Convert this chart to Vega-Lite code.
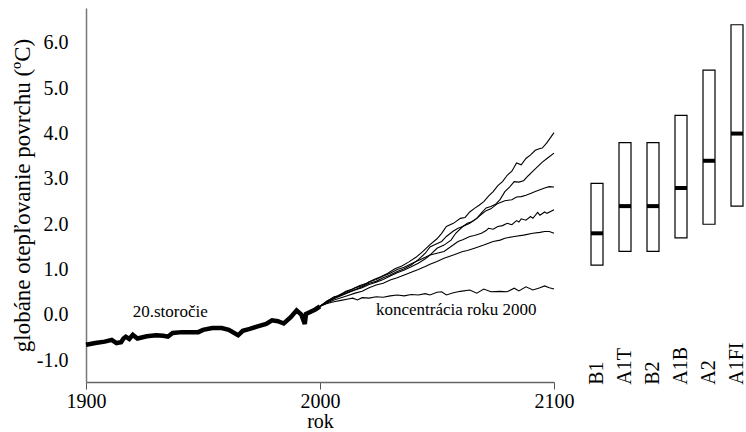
{
  "$schema": "https://vega.github.io/schema/vega-lite/v6.json",
  "padding": {"left": 11, "top": 8, "right": 0, "bottom": 0},
  "bounds": "flush",
  "spacing": 29,
  "config": {
    "view": {"stroke": null},
    "font": "Liberation Serif",
    "axis": {"grid": false, "labelColor": "black", "titleColor": "black", "titleFontWeight": "normal", "labelFont": "Liberation Serif", "titleFont": "Liberation Serif"}
  },
  "resolve": {"scale": {"x": "independent", "y": "independent"}},
  "datasets": {
    "hist": [
      {"year": 1900, "value": -0.66}, {"year": 1904, "value": -0.62}, {"year": 1908, "value": -0.59},
      {"year": 1911, "value": -0.55}, {"year": 1913, "value": -0.62}, {"year": 1915, "value": -0.6},
      {"year": 1916, "value": -0.52}, {"year": 1917, "value": -0.48}, {"year": 1918.5, "value": -0.53},
      {"year": 1920, "value": -0.44}, {"year": 1922, "value": -0.52}, {"year": 1926, "value": -0.47},
      {"year": 1930, "value": -0.45}, {"year": 1933, "value": -0.46}, {"year": 1935, "value": -0.48},
      {"year": 1937, "value": -0.4}, {"year": 1941, "value": -0.38}, {"year": 1945, "value": -0.38},
      {"year": 1948, "value": -0.38}, {"year": 1950, "value": -0.33}, {"year": 1954, "value": -0.29},
      {"year": 1958, "value": -0.29}, {"year": 1961, "value": -0.33}, {"year": 1965, "value": -0.45},
      {"year": 1967, "value": -0.35}, {"year": 1970, "value": -0.31}, {"year": 1973, "value": -0.26},
      {"year": 1977, "value": -0.2}, {"year": 1979.5, "value": -0.12}, {"year": 1982, "value": -0.14},
      {"year": 1984.5, "value": -0.19}, {"year": 1987.5, "value": -0.05}, {"year": 1990, "value": 0.1},
      {"year": 1992, "value": 0.01}, {"year": 1993.5, "value": -0.2}, {"year": 1994, "value": 0.02},
      {"year": 1998, "value": 0.12}, {"year": 2000, "value": 0.19}
    ],
    "proj": [
      {"series": "L1", "year": 2000, "value": 0.19}, {"series": "L1", "year": 2003, "value": 0.3}, {"series": "L1", "year": 2006, "value": 0.4},
      {"series": "L1", "year": 2008, "value": 0.42}, {"series": "L1", "year": 2011, "value": 0.52}, {"series": "L1", "year": 2014, "value": 0.57},
      {"series": "L1", "year": 2017, "value": 0.65}, {"series": "L1", "year": 2020, "value": 0.7}, {"series": "L1", "year": 2023, "value": 0.78},
      {"series": "L1", "year": 2026, "value": 0.84}, {"series": "L1", "year": 2029, "value": 0.92}, {"series": "L1", "year": 2032, "value": 1.02},
      {"series": "L1", "year": 2035, "value": 1.08}, {"series": "L1", "year": 2038, "value": 1.17}, {"series": "L1", "year": 2041, "value": 1.27},
      {"series": "L1", "year": 2044, "value": 1.4}, {"series": "L1", "year": 2047, "value": 1.55}, {"series": "L1", "year": 2050, "value": 1.68},
      {"series": "L1", "year": 2052, "value": 1.8}, {"series": "L1", "year": 2054, "value": 1.95}, {"series": "L1", "year": 2057, "value": 2.02},
      {"series": "L1", "year": 2060, "value": 2.13}, {"series": "L1", "year": 2062, "value": 2.15}, {"series": "L1", "year": 2064, "value": 2.27},
      {"series": "L1", "year": 2066, "value": 2.35}, {"series": "L1", "year": 2068, "value": 2.42}, {"series": "L1", "year": 2070, "value": 2.5},
      {"series": "L1", "year": 2072, "value": 2.62}, {"series": "L1", "year": 2074, "value": 2.72}, {"series": "L1", "year": 2076, "value": 2.85},
      {"series": "L1", "year": 2078, "value": 2.94}, {"series": "L1", "year": 2080, "value": 3.08}, {"series": "L1", "year": 2082, "value": 3.17},
      {"series": "L1", "year": 2084, "value": 3.35}, {"series": "L1", "year": 2086, "value": 3.31}, {"series": "L1", "year": 2088, "value": 3.45},
      {"series": "L1", "year": 2090, "value": 3.53}, {"series": "L1", "year": 2092, "value": 3.63}, {"series": "L1", "year": 2094, "value": 3.67},
      {"series": "L1", "year": 2095, "value": 3.68}, {"series": "L1", "year": 2097, "value": 3.8}, {"series": "L1", "year": 2100, "value": 4.02},

      {"series": "L2", "year": 2000, "value": 0.19}, {"series": "L2", "year": 2003, "value": 0.31}, {"series": "L2", "year": 2006, "value": 0.38},
      {"series": "L2", "year": 2009, "value": 0.46}, {"series": "L2", "year": 2012, "value": 0.52}, {"series": "L2", "year": 2015, "value": 0.6},
      {"series": "L2", "year": 2018, "value": 0.64}, {"series": "L2", "year": 2021, "value": 0.73}, {"series": "L2", "year": 2024, "value": 0.78},
      {"series": "L2", "year": 2027, "value": 0.86}, {"series": "L2", "year": 2030, "value": 0.92}, {"series": "L2", "year": 2033, "value": 1.0},
      {"series": "L2", "year": 2036, "value": 1.05}, {"series": "L2", "year": 2039, "value": 1.13}, {"series": "L2", "year": 2042, "value": 1.2},
      {"series": "L2", "year": 2045, "value": 1.27}, {"series": "L2", "year": 2047, "value": 1.32}, {"series": "L2", "year": 2050, "value": 1.47},
      {"series": "L2", "year": 2053, "value": 1.54}, {"series": "L2", "year": 2056, "value": 1.65}, {"series": "L2", "year": 2058, "value": 1.8},
      {"series": "L2", "year": 2061, "value": 1.95}, {"series": "L2", "year": 2064, "value": 2.02}, {"series": "L2", "year": 2067, "value": 2.13},
      {"series": "L2", "year": 2069, "value": 2.25}, {"series": "L2", "year": 2071, "value": 2.36}, {"series": "L2", "year": 2073, "value": 2.39},
      {"series": "L2", "year": 2075, "value": 2.44}, {"series": "L2", "year": 2077, "value": 2.55}, {"series": "L2", "year": 2079, "value": 2.72},
      {"series": "L2", "year": 2081, "value": 2.82}, {"series": "L2", "year": 2083, "value": 2.94}, {"series": "L2", "year": 2085, "value": 2.93},
      {"series": "L2", "year": 2087, "value": 2.96}, {"series": "L2", "year": 2089, "value": 3.07}, {"series": "L2", "year": 2091, "value": 3.17},
      {"series": "L2", "year": 2093, "value": 3.27}, {"series": "L2", "year": 2095, "value": 3.37}, {"series": "L2", "year": 2097, "value": 3.45},
      {"series": "L2", "year": 2100, "value": 3.57},

      {"series": "L3", "year": 2000, "value": 0.19}, {"series": "L3", "year": 2003, "value": 0.29}, {"series": "L3", "year": 2006, "value": 0.36},
      {"series": "L3", "year": 2009, "value": 0.44}, {"series": "L3", "year": 2012, "value": 0.5}, {"series": "L3", "year": 2015, "value": 0.56},
      {"series": "L3", "year": 2018, "value": 0.62}, {"series": "L3", "year": 2021, "value": 0.7}, {"series": "L3", "year": 2024, "value": 0.74},
      {"series": "L3", "year": 2027, "value": 0.82}, {"series": "L3", "year": 2030, "value": 0.88}, {"series": "L3", "year": 2033, "value": 0.96},
      {"series": "L3", "year": 2036, "value": 1.02}, {"series": "L3", "year": 2039, "value": 1.1}, {"series": "L3", "year": 2042, "value": 1.22},
      {"series": "L3", "year": 2045, "value": 1.36}, {"series": "L3", "year": 2047, "value": 1.5}, {"series": "L3", "year": 2049, "value": 1.55},
      {"series": "L3", "year": 2052, "value": 1.62}, {"series": "L3", "year": 2054, "value": 1.73}, {"series": "L3", "year": 2057, "value": 1.85},
      {"series": "L3", "year": 2059, "value": 1.91}, {"series": "L3", "year": 2061, "value": 1.95}, {"series": "L3", "year": 2063, "value": 2.02},
      {"series": "L3", "year": 2065, "value": 2.06}, {"series": "L3", "year": 2067, "value": 2.13}, {"series": "L3", "year": 2069, "value": 2.22},
      {"series": "L3", "year": 2071, "value": 2.3}, {"series": "L3", "year": 2073, "value": 2.34}, {"series": "L3", "year": 2076, "value": 2.46},
      {"series": "L3", "year": 2079, "value": 2.52}, {"series": "L3", "year": 2082, "value": 2.54}, {"series": "L3", "year": 2084, "value": 2.6},
      {"series": "L3", "year": 2086, "value": 2.61}, {"series": "L3", "year": 2088, "value": 2.64}, {"series": "L3", "year": 2090, "value": 2.68},
      {"series": "L3", "year": 2092, "value": 2.72}, {"series": "L3", "year": 2094, "value": 2.76}, {"series": "L3", "year": 2096, "value": 2.8},
      {"series": "L3", "year": 2098, "value": 2.83}, {"series": "L3", "year": 2100, "value": 2.82},

      {"series": "L4", "year": 2000, "value": 0.19}, {"series": "L4", "year": 2003, "value": 0.28}, {"series": "L4", "year": 2006, "value": 0.36},
      {"series": "L4", "year": 2009, "value": 0.42}, {"series": "L4", "year": 2012, "value": 0.49}, {"series": "L4", "year": 2015, "value": 0.55},
      {"series": "L4", "year": 2018, "value": 0.6}, {"series": "L4", "year": 2021, "value": 0.67}, {"series": "L4", "year": 2024, "value": 0.72},
      {"series": "L4", "year": 2027, "value": 0.78}, {"series": "L4", "year": 2030, "value": 0.86}, {"series": "L4", "year": 2033, "value": 0.93},
      {"series": "L4", "year": 2036, "value": 0.99}, {"series": "L4", "year": 2039, "value": 1.06}, {"series": "L4", "year": 2042, "value": 1.14},
      {"series": "L4", "year": 2045, "value": 1.24}, {"series": "L4", "year": 2047, "value": 1.32}, {"series": "L4", "year": 2050, "value": 1.36},
      {"series": "L4", "year": 2053, "value": 1.4}, {"series": "L4", "year": 2056, "value": 1.51}, {"series": "L4", "year": 2059, "value": 1.62},
      {"series": "L4", "year": 2061, "value": 1.66}, {"series": "L4", "year": 2064, "value": 1.73}, {"series": "L4", "year": 2066, "value": 1.75},
      {"series": "L4", "year": 2069, "value": 1.8}, {"series": "L4", "year": 2071, "value": 1.86}, {"series": "L4", "year": 2072, "value": 1.91},
      {"series": "L4", "year": 2074, "value": 1.89}, {"series": "L4", "year": 2076, "value": 1.95}, {"series": "L4", "year": 2078, "value": 1.97},
      {"series": "L4", "year": 2080, "value": 2.02}, {"series": "L4", "year": 2082, "value": 1.99}, {"series": "L4", "year": 2084, "value": 2.08},
      {"series": "L4", "year": 2085, "value": 2.05}, {"series": "L4", "year": 2086, "value": 2.12}, {"series": "L4", "year": 2088, "value": 2.09},
      {"series": "L4", "year": 2090, "value": 2.17}, {"series": "L4", "year": 2091, "value": 2.13}, {"series": "L4", "year": 2093, "value": 2.26},
      {"series": "L4", "year": 2094, "value": 2.2}, {"series": "L4", "year": 2096, "value": 2.27}, {"series": "L4", "year": 2097, "value": 2.24},
      {"series": "L4", "year": 2100, "value": 2.32},

      {"series": "L5", "year": 2000, "value": 0.19}, {"series": "L5", "year": 2003, "value": 0.26}, {"series": "L5", "year": 2006, "value": 0.33},
      {"series": "L5", "year": 2009, "value": 0.38}, {"series": "L5", "year": 2012, "value": 0.43}, {"series": "L5", "year": 2015, "value": 0.48},
      {"series": "L5", "year": 2018, "value": 0.52}, {"series": "L5", "year": 2021, "value": 0.6}, {"series": "L5", "year": 2024, "value": 0.66},
      {"series": "L5", "year": 2027, "value": 0.7}, {"series": "L5", "year": 2030, "value": 0.77}, {"series": "L5", "year": 2033, "value": 0.82},
      {"series": "L5", "year": 2036, "value": 0.88}, {"series": "L5", "year": 2039, "value": 0.94}, {"series": "L5", "year": 2042, "value": 1.0},
      {"series": "L5", "year": 2045, "value": 1.07}, {"series": "L5", "year": 2047, "value": 1.12}, {"series": "L5", "year": 2050, "value": 1.18},
      {"series": "L5", "year": 2053, "value": 1.25}, {"series": "L5", "year": 2057, "value": 1.32}, {"series": "L5", "year": 2061, "value": 1.4},
      {"series": "L5", "year": 2063, "value": 1.42}, {"series": "L5", "year": 2066, "value": 1.47}, {"series": "L5", "year": 2070, "value": 1.54},
      {"series": "L5", "year": 2072, "value": 1.58}, {"series": "L5", "year": 2074, "value": 1.62}, {"series": "L5", "year": 2077, "value": 1.65},
      {"series": "L5", "year": 2079, "value": 1.69}, {"series": "L5", "year": 2083, "value": 1.73}, {"series": "L5", "year": 2087, "value": 1.76},
      {"series": "L5", "year": 2091, "value": 1.8}, {"series": "L5", "year": 2094, "value": 1.82}, {"series": "L5", "year": 2096, "value": 1.84},
      {"series": "L5", "year": 2098, "value": 1.84}, {"series": "L5", "year": 2100, "value": 1.8},

      {"series": "const", "year": 2000, "value": 0.19}, {"series": "const", "year": 2003, "value": 0.25}, {"series": "const", "year": 2006, "value": 0.29},
      {"series": "const", "year": 2009, "value": 0.32}, {"series": "const", "year": 2012, "value": 0.35}, {"series": "const", "year": 2014, "value": 0.37},
      {"series": "const", "year": 2016, "value": 0.33}, {"series": "const", "year": 2018, "value": 0.38}, {"series": "const", "year": 2021, "value": 0.37},
      {"series": "const", "year": 2024, "value": 0.4}, {"series": "const", "year": 2027, "value": 0.39}, {"series": "const", "year": 2030, "value": 0.42},
      {"series": "const", "year": 2033, "value": 0.44}, {"series": "const", "year": 2036, "value": 0.42}, {"series": "const", "year": 2039, "value": 0.45},
      {"series": "const", "year": 2042, "value": 0.44}, {"series": "const", "year": 2045, "value": 0.47}, {"series": "const", "year": 2047, "value": 0.44},
      {"series": "const", "year": 2050, "value": 0.5}, {"series": "const", "year": 2052, "value": 0.51}, {"series": "const", "year": 2054, "value": 0.44},
      {"series": "const", "year": 2057, "value": 0.49}, {"series": "const", "year": 2060, "value": 0.52}, {"series": "const", "year": 2064, "value": 0.55},
      {"series": "const", "year": 2067, "value": 0.48}, {"series": "const", "year": 2070, "value": 0.57}, {"series": "const", "year": 2073, "value": 0.51},
      {"series": "const", "year": 2077, "value": 0.52}, {"series": "const", "year": 2080, "value": 0.51}, {"series": "const", "year": 2083, "value": 0.59},
      {"series": "const", "year": 2085, "value": 0.53}, {"series": "const", "year": 2088, "value": 0.62}, {"series": "const", "year": 2091, "value": 0.55},
      {"series": "const", "year": 2094, "value": 0.6}, {"series": "const", "year": 2096, "value": 0.64}, {"series": "const", "year": 2098, "value": 0.6},
      {"series": "const", "year": 2100, "value": 0.57}
    ],
    "notes": [
      {"year": 1936, "value": 0.07, "label": "20.storočie"},
      {"year": 2058.2, "value": 0.11, "label": "koncentrácia roku 2000"}
    ],
    "boxes": [
      {"scenario": "B1", "low": 1.1, "median": 1.8, "high": 2.9},
      {"scenario": "A1T", "low": 1.4, "median": 2.4, "high": 3.8},
      {"scenario": "B2", "low": 1.4, "median": 2.4, "high": 3.8},
      {"scenario": "A1B", "low": 1.7, "median": 2.8, "high": 4.4},
      {"scenario": "A2", "low": 2.0, "median": 3.4, "high": 5.4},
      {"scenario": "A1FI", "low": 2.4, "median": 4.0, "high": 6.4}
    ]
  },
  "hconcat": [
    {
      "width": 468,
      "height": 374,
      "encoding": {
        "x": {
          "field": "year", "type": "quantitative",
          "scale": {"domain": [1900, 2100], "nice": false, "zero": false},
          "axis": {
            "values": [1900, 2000, 2100], "format": "d", "title": "rok",
            "labelFontSize": 20, "titleFontSize": 20, "tickSize": 7, "labelPadding": 2,
            "titlePadding": 0, "labelFlush": false, "domainColor": "#666", "tickColor": "#555", "domainWidth": 1.3
          }
        },
        "y": {
          "field": "value", "type": "quantitative",
          "scale": {"domain": [-1.48, 6.77], "nice": false, "zero": false},
          "axis": {
            "values": [-1, 0, 1, 2, 3, 4, 5, 6],
            "labelExpr": "datum.value < 0 ? '-' + format(-datum.value, '.1f') : format(datum.value, '.1f')",
            "title": "globáne otepľovanie povrchu (ºC)", "ticks": false, "labelPadding": 18,
            "labelFontSize": 20, "titleFontSize": 23, "titlePadding": 2,
            "domainColor": "#777", "domainWidth": 1.5
          }
        }
      },
      "layer": [
        {
          "data": {"name": "hist"},
          "mark": {"type": "line", "color": "black", "strokeWidth": 4.5}
        },
        {
          "data": {"name": "proj"},
          "mark": {"type": "line", "color": "black", "strokeWidth": 1.1},
          "encoding": {"detail": {"field": "series", "type": "nominal"}}
        },
        {
          "data": {"name": "notes"},
          "mark": {"type": "text", "fontSize": 17, "font": "Liberation Serif", "color": "black", "baseline": "middle"},
          "encoding": {"text": {"field": "label", "type": "nominal"}}
        }
      ]
    },
    {
      "width": 164,
      "height": 374,
      "data": {"name": "boxes"},
      "encoding": {
        "x": {
          "field": "scenario", "type": "nominal",
          "sort": ["B1", "A1T", "B2", "A1B", "A2", "A1FI"],
          "scale": {"paddingInner": 0.5714, "paddingOuter": 0.214, "align": 0.667},
          "axis": null
        }
      },
      "layer": [
        {
          "mark": {"type": "bar", "fill": "white", "stroke": "black", "strokeWidth": 1.2},
          "encoding": {
            "y": {"field": "low", "type": "quantitative", "scale": {"domain": [-1.48, 6.77], "nice": false, "zero": false}, "axis": null},
            "y2": {"field": "high"}
          }
        },
        {
          "mark": {"type": "tick", "orient": "horizontal", "thickness": 4, "size": 12, "color": "black", "opacity": 1},
          "encoding": {
            "y": {"field": "median", "type": "quantitative", "scale": {"domain": [-1.48, 6.77], "nice": false, "zero": false}, "axis": null}
          }
        },
        {
          "mark": {"type": "text", "angle": 270, "align": "left", "baseline": "middle", "fontSize": 20, "font": "Liberation Serif", "color": "black"},
          "encoding": {
            "y": {"datum": -1.54, "type": "quantitative", "axis": null},
            "text": {"field": "scenario", "type": "nominal"}
          }
        }
      ]
    }
  ]
}
